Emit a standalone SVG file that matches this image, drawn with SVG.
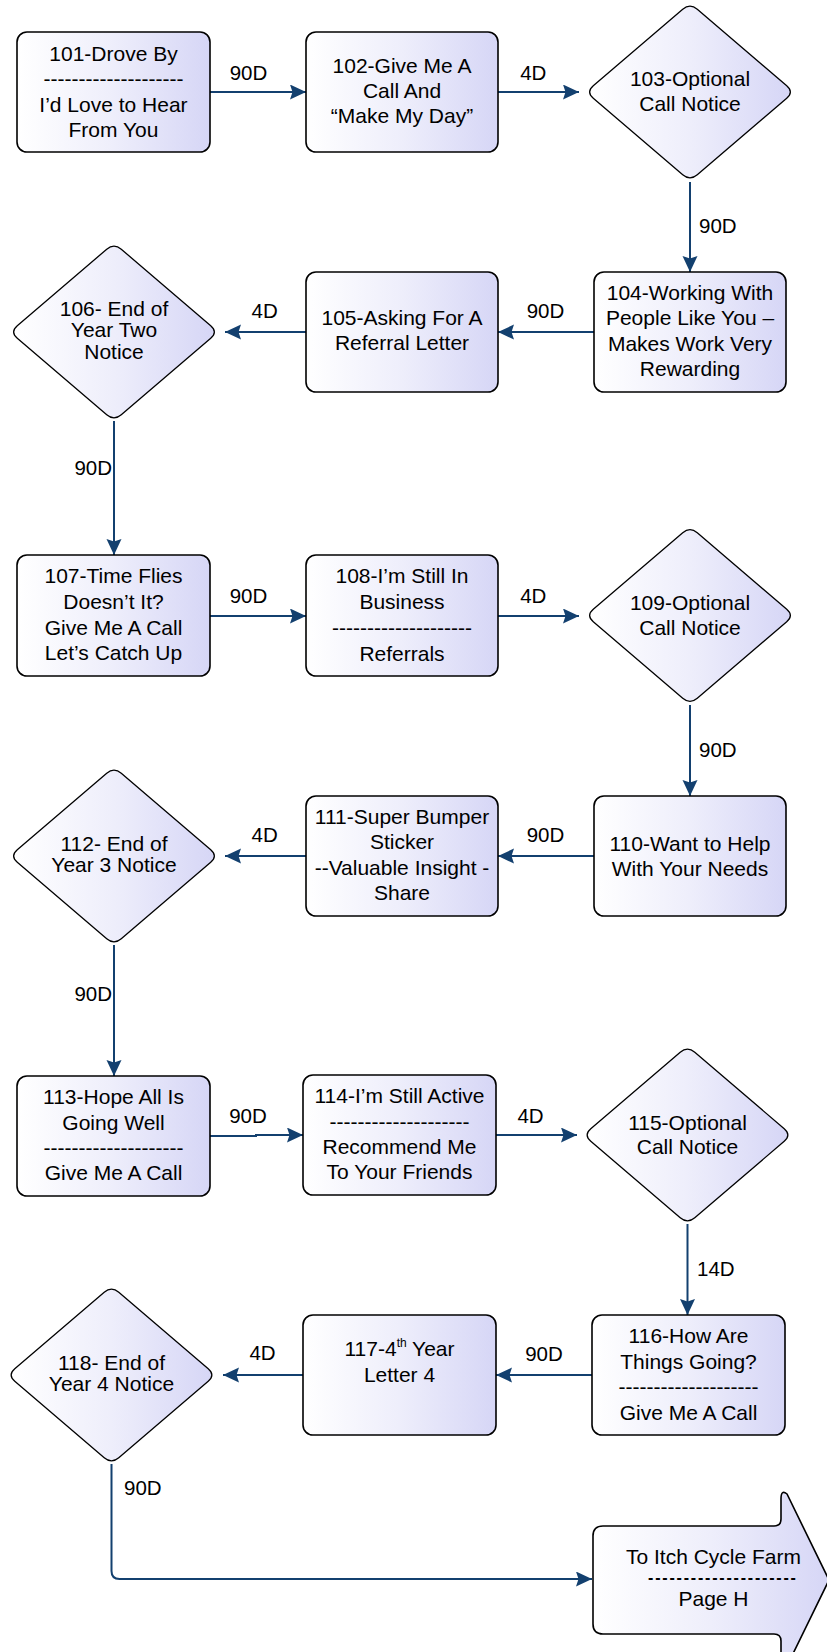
<svg xmlns="http://www.w3.org/2000/svg" width="827" height="1652" viewBox="0 0 827 1652">
<defs>
<linearGradient id="g" x1="0" y1="0" x2="1" y2="0">
<stop offset="0" stop-color="#FFFFFF"/>
<stop offset="0.5" stop-color="#EEEEFB"/>
<stop offset="1" stop-color="#D6D6F6"/>
</linearGradient>
<path id="dia" d="M-7.28,-82.77 Q0,-89 7.28,-82.77 L96.72,-6.23 Q104,0 96.72,6.23 L7.28,82.77 Q0,89 -7.28,82.77 L-96.72,6.23 Q-104,0 -96.72,-6.23 Z"/>
<marker id="ah" markerUnits="userSpaceOnUse" markerWidth="16" markerHeight="16" refX="16" refY="7.5" orient="auto">
<path d="M0,0 L16,7.5 L0,15 L2.5,7.5 Z" fill="#13406F"/>
</marker>
</defs>
<style>
.box{fill:url(#g);stroke:#000;stroke-width:1.6}
.dia{fill:url(#g);stroke:#000;stroke-width:1.3}
.t{font-family:"Liberation Sans",Arial,sans-serif;font-size:21px;fill:#000;text-anchor:middle}
.lbl{font-family:"Liberation Sans",Arial,sans-serif;font-size:20.5px;fill:#000}
.m{text-anchor:middle}
.e{text-anchor:end}
.c{fill:none;stroke:#13406F;stroke-width:2;marker-end:url(#ah)}
</style>

<g id="connectors">
<path class="c" d="M210,92 H306"/>
<path class="c" d="M498,92 H579"/>
<path class="c" d="M690,182 V272"/>
<path class="c" d="M594,332 H498"/>
<path class="c" d="M306,332 H225"/>
<path class="c" d="M114,421 V555"/>
<path class="c" d="M210,616 H306"/>
<path class="c" d="M498,616 H579"/>
<path class="c" d="M690,705 V796"/>
<path class="c" d="M594,856 H498"/>
<path class="c" d="M306,856 H225"/>
<path class="c" d="M114,945 V1076"/>
<path class="c" d="M210,1136 H256 V1135 H303"/>
<path class="c" d="M496,1135 H577"/>
<path class="c" d="M687.5,1224 V1315"/>
<path class="c" d="M592,1375 H496"/>
<path class="c" d="M303,1375 H223"/>
<path class="c" d="M111.5,1464 V1571 Q111.5,1579 119.5,1579 H592"/>
<text class="lbl m" x="248.5" y="80">90D</text>
<text class="lbl m" x="533.3" y="79.5">4D</text>
<text class="lbl" x="699" y="232.5">90D</text>
<text class="lbl m" x="545.5" y="317.5">90D</text>
<text class="lbl m" x="264.7" y="318.3">4D</text>
<text class="lbl e" x="112" y="475">90D</text>
<text class="lbl m" x="248.5" y="603.3">90D</text>
<text class="lbl m" x="533.3" y="603.3">4D</text>
<text class="lbl" x="699" y="756.7">90D</text>
<text class="lbl m" x="545.5" y="841.7">90D</text>
<text class="lbl m" x="264.7" y="841.7">4D</text>
<text class="lbl e" x="112" y="1000.7">90D</text>
<text class="lbl m" x="248" y="1123.3">90D</text>
<text class="lbl m" x="530.5" y="1122.7">4D</text>
<text class="lbl" x="697" y="1276">14D</text>
<text class="lbl m" x="544" y="1361">90D</text>
<text class="lbl m" x="262.5" y="1360">4D</text>
<text class="lbl" x="124" y="1495">90D</text>
</g>

<g id="n101">
<rect class="box" x="17" y="32" width="193" height="120" rx="10"/>
<text class="t" x="113.5" y="61">101-Drove By</text>
<text class="t" x="113.5" y="86">--------------------</text>
<text class="t" x="113.5" y="111.5">I’d Love to Hear</text>
<text class="t" x="113.5" y="137">From You</text>
</g>
<g id="n102">
<rect class="box" x="306" y="32" width="192" height="120" rx="10"/>
<text class="t" x="402" y="72.7">102-Give Me A</text>
<text class="t" x="402" y="97.7">Call And</text>
<text class="t" x="402" y="123">“Make My Day”</text>
</g>
<g id="n103">
<use href="#dia" class="dia" x="690" y="92"/>
<text class="t" x="690" y="86">103-Optional</text>
<text class="t" x="690" y="111">Call Notice</text>
</g>
<g id="n104">
<rect class="box" x="594" y="272" width="192" height="120" rx="10"/>
<text class="t" x="690" y="299.5">104-Working With</text>
<text class="t" x="690" y="325">People Like You –</text>
<text class="t" x="690" y="350.5">Makes Work Very</text>
<text class="t" x="690" y="376">Rewarding</text>
</g>
<g id="n105">
<rect class="box" x="306" y="272" width="192" height="120" rx="10"/>
<text class="t" x="402" y="325">105-Asking For A</text>
<text class="t" x="402" y="350">Referral Letter</text>
</g>
<g id="n106">
<use href="#dia" class="dia" x="114" y="332"/>
<text class="t" x="114" y="316">106- End of</text>
<text class="t" x="114" y="337">Year Two</text>
<text class="t" x="114" y="358.5">Notice</text>
</g>
<g id="n107">
<rect class="box" x="17" y="555" width="193" height="121" rx="10"/>
<text class="t" x="113.5" y="583">107-Time Flies</text>
<text class="t" x="113.5" y="609">Doesn’t It?</text>
<text class="t" x="113.5" y="635">Give Me A Call</text>
<text class="t" x="113.5" y="660">Let’s Catch Up</text>
</g>
<g id="n108">
<rect class="box" x="306" y="555" width="192" height="121" rx="10"/>
<text class="t" x="402" y="583">108-I’m Still In</text>
<text class="t" x="402" y="609">Business</text>
<text class="t" x="402" y="635">--------------------</text>
<text class="t" x="402" y="660.5">Referrals</text>
</g>
<g id="n109">
<use href="#dia" class="dia" x="690" y="615.5"/>
<text class="t" x="690" y="610">109-Optional</text>
<text class="t" x="690" y="635">Call Notice</text>
</g>
<g id="n110">
<rect class="box" x="594" y="796" width="192" height="120" rx="10"/>
<text class="t" x="690" y="851">110-Want to Help</text>
<text class="t" x="690" y="876">With Your Needs</text>
</g>
<g id="n111">
<rect class="box" x="306" y="796" width="192" height="120" rx="10"/>
<text class="t" x="402" y="823.5">111-Super Bumper</text>
<text class="t" x="402" y="849">Sticker</text>
<text class="t" x="402" y="875">--Valuable Insight -</text>
<text class="t" x="402" y="900">Share</text>
</g>
<g id="n112">
<use href="#dia" class="dia" x="114" y="856"/>
<text class="t" x="114" y="851">112- End of</text>
<text class="t" x="114" y="872">Year 3 Notice</text>
</g>
<g id="n113">
<rect class="box" x="17" y="1076" width="193" height="120" rx="10"/>
<text class="t" x="113.5" y="1103.5">113-Hope All Is</text>
<text class="t" x="113.5" y="1129.5">Going Well</text>
<text class="t" x="113.5" y="1155">--------------------</text>
<text class="t" x="113.5" y="1180">Give Me A Call</text>
</g>
<g id="n114">
<rect class="box" x="303" y="1075" width="193" height="120" rx="10"/>
<text class="t" x="399.5" y="1103">114-I’m Still Active</text>
<text class="t" x="399.5" y="1128.5">--------------------</text>
<text class="t" x="399.5" y="1154">Recommend Me</text>
<text class="t" x="399.5" y="1179">To Your Friends</text>
</g>
<g id="n115">
<use href="#dia" class="dia" x="687.5" y="1135"/>
<text class="t" x="687.5" y="1129.5">115-Optional</text>
<text class="t" x="687.5" y="1154">Call Notice</text>
</g>
<g id="n116">
<rect class="box" x="592" y="1315" width="193" height="120" rx="10"/>
<text class="t" x="688.5" y="1343">116-How Are</text>
<text class="t" x="688.5" y="1368.5">Things Going?</text>
<text class="t" x="688.5" y="1394">--------------------</text>
<text class="t" x="688.5" y="1419.5">Give Me A Call</text>
</g>
<g id="n117">
<rect class="box" x="303" y="1315" width="193" height="120" rx="10"/>
<text class="t" x="399.5" y="1356">117-4<tspan font-size="12" dy="-9">th</tspan><tspan dy="9"> Year</tspan></text>
<text class="t" x="399.5" y="1381.5">Letter 4</text>
</g>
<g id="n118">
<use href="#dia" class="dia" x="111.5" y="1375"/>
<text class="t" x="111.5" y="1370">118- End of</text>
<text class="t" x="111.5" y="1391">Year 4 Notice</text>
</g>
<g id="n119">
<path class="box" d="M603,1526 H774 Q781,1526 781,1519 V1499 Q781,1489 787,1494 L829,1580 L787,1666 Q781,1671 781,1661 V1641 Q781,1634 774,1634 H603 Q593,1634 593,1624 V1536 Q593,1526 603,1526 Z"/>
<text class="t" x="713.5" y="1563.5">To Itch Cycle Farm</text>
<text class="t" x="722.9" y="1582.7" style="font-size:16px;font-weight:bold;letter-spacing:1.8px">---------------------</text>
<text class="t" x="713.5" y="1605.5">Page H</text>
</g>
</svg>
